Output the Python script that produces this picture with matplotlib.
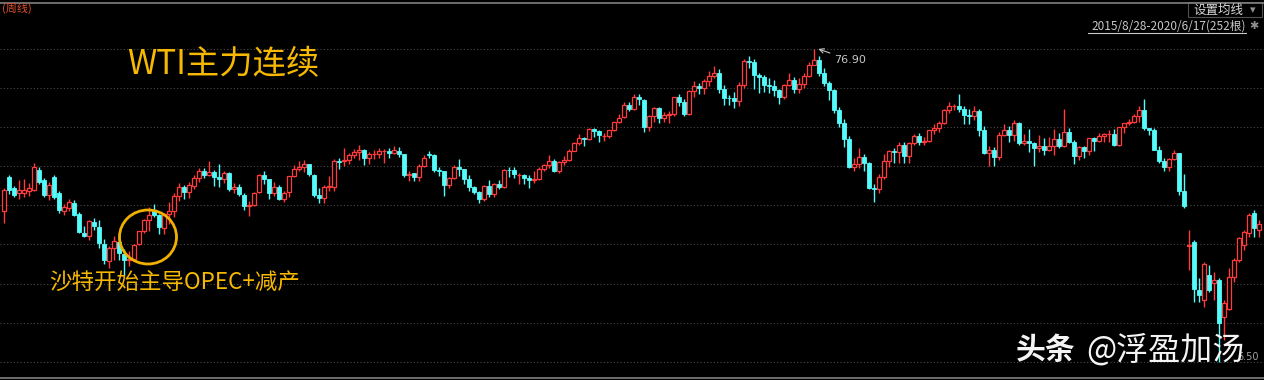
import matplotlib
matplotlib.use("Agg")
import matplotlib.pyplot as plt
from matplotlib.patches import Rectangle, Ellipse

# ---------------- data (weekly WTI main continuous, 2015/8/28 - 2020/6/17) ----------------
title_text = "WTI主力连续"
period_label = "(周线)"
range_label = "2015/8/28-2020/6/17(252根)"
note_text = "沙特开始主导OPEC+减产"
max_label = "76.90"
min_label = "6.50"
max_value = 76.90
min_value = 6.50

opens = [
    40.5, 48.0, 45.5, 44.4, 44.5, 44.8, 45.1, 49.6, 47.4, 44.0,
    48.1, 44.4, 40.3, 41.0, 42.1, 39.8, 35.5, 34.8, 38.0, 36.8,
    33.0, 29.2, 32.0, 33.5, 30.8, 29.5, 29.7, 32.9, 35.9, 38.4,
    40.5, 39.4, 36.7, 39.8, 40.3, 43.8, 45.8, 44.6, 46.1, 47.8,
    49.3, 48.6, 49.2, 48.0, 47.6, 49.0, 45.3, 45.9, 44.1, 41.5,
    41.8, 44.6, 48.6, 47.5, 44.5, 45.9, 43.0, 44.6, 48.2, 49.8,
    50.4, 50.9, 48.6, 44.0, 43.4, 45.8, 45.9, 51.6, 51.6, 51.9,
    53.0, 53.7, 54.0, 52.4, 53.2, 53.2, 53.8, 53.9, 53.5, 53.9,
    53.2, 48.5, 48.9, 48.0, 50.6, 53.3, 53.0, 49.6, 49.3, 46.3,
    47.8, 50.4, 49.8, 47.7, 45.8, 44.7, 43.0, 46.1, 44.3, 46.5,
    45.7, 49.7, 49.6, 48.4, 48.5, 47.9, 47.3, 47.5, 49.9, 50.7,
    51.7, 49.3, 51.5, 51.8, 53.9, 55.6, 56.7, 56.6, 58.9, 58.3,
    57.3, 57.3, 58.5, 60.4, 61.5, 64.3, 63.4, 66.1, 65.4, 59.2,
    61.7, 63.6, 61.3, 62.0, 62.3, 65.9, 64.9, 62.1, 67.4, 68.4,
    68.1, 69.7, 70.7, 71.3, 67.9, 65.8, 65.7, 65.0, 68.6, 74.2,
    73.8, 70.9, 70.5, 68.7, 68.5, 67.6, 65.9, 68.7, 69.8, 67.8,
    69.0, 70.8, 73.3, 74.3, 71.3, 69.1, 67.6, 63.1, 60.2, 56.5,
    50.4, 50.9, 52.6, 51.2, 45.6, 45.3, 48.0, 51.6, 53.8, 53.7,
    55.3, 52.7, 55.6, 57.3, 55.8, 56.1, 58.5, 59.0, 60.1, 63.1,
    63.9, 64.0, 63.3, 61.9, 61.7, 62.8, 58.6, 53.5, 54.0, 52.5,
    57.4, 58.5, 57.5, 60.2, 55.6, 56.2, 55.7, 54.5, 54.9, 54.2,
    55.1, 56.5, 54.9, 58.1, 55.9, 52.8, 54.7, 53.8, 56.7, 56.2,
    57.2, 57.7, 57.8, 55.2, 59.2, 60.1, 60.4, 61.7, 63.1, 59.0,
    58.5, 54.2, 51.6, 50.3, 52.1, 53.4, 44.8, 32.5, 33.5, 22.7,
    20.4, 26.0, 24.3, 24.9, 16.7, 18.5, 25.7, 29.4, 32.8, 35.4,
    39.9, 36.1,
]
highs = [
    45.5, 48.6, 46.0, 47.4, 47.6, 46.8, 51.3, 50.3, 47.8, 47.0,
    48.6, 44.8, 42.0, 43.2, 42.8, 40.2, 37.0, 38.3, 38.9, 38.4,
    34.2, 32.5, 34.8, 34.7, 31.8, 31.5, 33.0, 36.0, 38.7, 41.2,
    41.9, 39.8, 40.0, 42.4, 44.5, 46.8, 46.2, 47.0, 48.5, 50.0,
    50.0, 51.7, 49.7, 51.0, 49.4, 49.2, 46.8, 46.5, 44.4, 42.6,
    44.7, 48.8, 49.4, 47.7, 46.9, 46.2, 45.0, 48.3, 50.7, 51.6,
    51.9, 51.0, 48.8, 45.5, 46.2, 48.2, 52.0, 52.4, 54.5, 53.4,
    54.3, 55.2, 54.4, 53.6, 54.0, 54.5, 54.4, 54.6, 54.9, 54.8,
    53.3, 49.3, 49.0, 50.9, 52.9, 53.8, 53.3, 50.2, 49.5, 48.0,
    50.8, 52.0, 49.9, 48.4, 46.1, 44.9, 46.3, 47.3, 46.7, 47.4,
    49.8, 50.4, 50.2, 48.9, 48.7, 48.6, 49.4, 50.2, 50.9, 52.9,
    52.0, 51.6, 52.8, 54.3, 55.9, 57.7, 57.0, 59.0, 59.1, 58.6,
    58.0, 58.6, 60.5, 62.2, 64.8, 64.9, 66.7, 66.6, 65.6, 62.0,
    63.7, 63.7, 62.6, 62.8, 66.0, 66.7, 65.5, 67.5, 69.6, 69.1,
    70.0, 71.9, 72.9, 72.4, 68.6, 66.4, 67.1, 69.3, 74.5, 75.3,
    74.5, 71.4, 70.9, 70.3, 69.8, 67.9, 69.0, 71.4, 70.4, 70.3,
    71.3, 73.8, 76.9, 75.3, 72.6, 69.6, 67.9, 63.7, 61.0, 57.2,
    52.3, 54.6, 53.3, 51.4, 46.4, 48.7, 53.3, 54.1, 54.5, 55.8,
    55.8, 56.0, 57.8, 57.9, 57.0, 58.7, 60.0, 60.6, 63.3, 64.8,
    64.4, 66.6, 64.0, 63.3, 63.9, 63.3, 59.4, 54.9, 54.8, 58.2,
    59.9, 59.5, 60.9, 60.3, 57.7, 58.8, 56.0, 57.5, 56.9, 57.0,
    58.8, 58.0, 63.4, 59.0, 56.4, 54.9, 55.0, 56.9, 57.1, 57.9,
    57.9, 58.7, 58.9, 59.3, 60.1, 61.0, 62.3, 64.1, 65.6, 59.1,
    59.1, 54.9, 52.3, 52.2, 54.2, 53.5, 48.7, 36.1, 34.0, 25.3,
    28.9, 28.3, 26.8, 25.3, 20.4, 27.5, 29.8, 34.6, 36.1, 39.9,
    40.6, 38.4,
]
lows = [
    37.8, 44.3, 43.5, 43.2, 43.5, 43.8, 44.8, 46.5, 43.6, 42.9,
    43.2, 40.0, 39.6, 40.3, 39.2, 35.4, 34.5, 34.0, 36.2, 32.1,
    28.4, 27.6, 29.3, 29.3, 26.1, 28.0, 29.1, 32.7, 35.4, 36.0,
    39.0, 35.2, 35.2, 37.6, 39.1, 42.6, 43.0, 43.4, 45.4, 47.0,
    47.8, 48.3, 46.0, 45.8, 46.6, 44.8, 44.4, 43.8, 40.6, 39.2,
    41.5, 44.4, 46.5, 43.0, 43.8, 42.8, 42.5, 43.6, 48.0, 49.3,
    49.1, 48.3, 43.6, 42.2, 42.2, 44.8, 44.8, 49.9, 50.5, 51.0,
    52.3, 51.9, 50.7, 50.9, 52.1, 52.2, 51.2, 52.4, 53.1, 52.5,
    48.0, 47.1, 47.1, 47.1, 50.2, 52.3, 49.2, 48.2, 43.8, 45.5,
    47.6, 48.2, 46.5, 44.8, 44.2, 42.1, 42.6, 43.6, 43.6, 45.4,
    45.6, 48.0, 47.8, 46.5, 46.5, 45.6, 46.8, 47.3, 49.4, 50.1,
    49.1, 49.0, 50.7, 51.6, 53.8, 55.3, 55.1, 56.3, 57.0, 55.8,
    56.1, 56.8, 58.4, 60.1, 61.3, 62.8, 63.0, 64.2, 58.1, 58.3,
    60.5, 60.2, 60.4, 60.2, 61.8, 63.9, 61.8, 61.9, 66.0, 66.7,
    66.6, 68.4, 70.2, 66.9, 64.3, 64.3, 63.6, 64.0, 68.0, 72.5,
    67.9, 66.9, 67.1, 66.9, 66.3, 64.4, 65.6, 68.5, 66.9, 66.8,
    68.0, 70.4, 73.1, 70.8, 68.5, 65.3, 62.5, 59.3, 54.8, 50.0,
    49.4, 50.0, 49.3, 45.4, 42.4, 44.4, 47.6, 50.3, 51.3, 51.3,
    51.2, 51.3, 55.3, 55.3, 55.2, 56.0, 57.6, 58.1, 59.9, 62.5,
    63.0, 62.6, 60.0, 60.0, 60.9, 57.3, 53.1, 50.6, 50.6, 51.8,
    57.2, 55.9, 56.1, 55.2, 55.3, 53.6, 50.5, 53.6, 53.0, 53.8,
    52.9, 54.5, 54.7, 55.6, 50.9, 51.9, 52.4, 52.9, 53.9, 55.9,
    55.9, 55.9, 55.0, 55.0, 58.0, 59.8, 60.1, 60.5, 58.7, 57.4,
    54.2, 51.3, 49.3, 49.4, 51.9, 44.0, 41.1, 27.2, 20.0, 20.0,
    18.9, 22.3, 20.4, 6.5, 11.4, 18.2, 24.5, 29.0, 31.6, 34.6,
    34.6, 34.6,
]
closes = [
    45.2, 45.2, 44.0, 45.1, 45.1, 45.5, 50.4, 47.0, 44.0, 46.2,
    43.6, 40.6, 41.4, 42.5, 39.5, 35.6, 34.7, 38.1, 37.0, 33.2,
    29.4, 32.2, 33.6, 30.9, 29.4, 29.6, 32.8, 35.9, 38.5, 39.4,
    39.5, 36.8, 39.7, 40.4, 43.7, 45.9, 44.7, 46.2, 47.8, 49.3,
    48.6, 49.1, 48.0, 47.6, 49.0, 45.4, 45.9, 44.2, 41.6, 41.8,
    44.5, 48.5, 47.6, 44.4, 45.9, 43.0, 44.5, 48.2, 49.8, 50.4,
    50.9, 48.7, 44.1, 43.4, 45.7, 46.1, 51.7, 51.5, 51.9, 53.0,
    53.7, 54.0, 52.4, 53.2, 53.2, 53.8, 53.9, 53.4, 54.0, 53.3,
    48.5, 48.8, 48.0, 50.6, 52.2, 53.0, 49.6, 49.3, 46.2, 47.8,
    50.3, 49.8, 47.7, 45.8, 44.7, 43.0, 46.0, 44.2, 46.5, 45.8,
    49.7, 49.6, 48.8, 48.5, 47.9, 47.3, 47.5, 49.9, 50.7, 51.7,
    49.3, 51.5, 51.8, 53.9, 55.6, 56.7, 56.6, 58.9, 58.4, 57.4,
    57.3, 58.5, 60.4, 61.4, 64.3, 63.4, 66.1, 65.5, 59.2, 61.7,
    63.6, 61.3, 62.0, 62.3, 65.9, 64.9, 62.1, 67.4, 68.4, 68.1,
    69.7, 70.7, 71.3, 67.9, 65.8, 65.7, 65.1, 68.6, 74.2, 73.8,
    71.0, 70.5, 68.7, 68.5, 67.6, 65.9, 68.7, 69.8, 67.8, 69.0,
    70.8, 73.3, 74.3, 71.3, 69.1, 67.6, 63.1, 60.2, 56.5, 50.4,
    50.9, 52.6, 51.2, 45.6, 45.3, 48.0, 51.6, 53.8, 53.7, 55.3,
    52.7, 55.6, 57.3, 55.8, 56.1, 58.5, 59.0, 60.1, 63.1, 63.9,
    64.0, 63.3, 61.9, 61.7, 62.8, 58.6, 53.5, 54.0, 52.5, 57.4,
    58.5, 57.5, 60.2, 55.6, 56.2, 55.7, 54.5, 54.9, 54.2, 55.1,
    56.5, 54.9, 58.1, 55.9, 52.8, 54.7, 53.8, 56.7, 56.2, 57.2,
    57.7, 57.8, 55.2, 59.2, 60.1, 60.4, 61.7, 63.1, 59.0, 58.5,
    54.2, 51.6, 50.3, 52.1, 53.4, 44.8, 41.6, 32.8, 23.0, 21.5,
    28.6, 22.7, 24.9, 15.2, 19.7, 25.7, 29.4, 34.3, 35.8, 39.5,
    36.5, 37.6,
]

# ---------------- style ----------------
W, H = 1264, 380
BG = "black"
UP = "#ff3b3b"
DOWN = "#54fcfc"
GOLD = "#f6b800"
CJK = ["Noto Sans CJK SC", "DejaVu Sans"]
plt.rcParams["font.family"] = CJK

fig = plt.figure(figsize=(W / 100, H / 100), dpi=100, facecolor=BG)
ax = fig.add_axes([0, 0, 1, 1], facecolor=BG)
n = len(closes)
ax.set_xlim(-0.8, -0.8 + W / 5.0)
# price range so that 76.90 sits at y=48.5px and 6.50 at y=362px
ppx = (max_value - min_value) / (362 - 48.5)
ax.set_ylim(max_value - (H - 48.5) * ppx, max_value + 48.5 * ppx)
ax.axis("off")

# grid: 9 dotted lines splitting the min..max range into 8 parts
for k in range(9):
    gy = min_value + k * (max_value - min_value) / 8
    ax.axhline(gy, color="#4a4a4a", lw=0.8, ls=(0, (1, 2)), zorder=1)

bw = 0.72
for i in range(n):
    o, h, l, c = opens[i], highs[i], lows[i], closes[i]
    top, bot = max(o, c), min(o, c)
    if c >= o:
        col = UP
        ax.vlines(i, top, max(h, top), color=col, lw=1.0, zorder=2)
        ax.vlines(i, min(l, bot), bot, color=col, lw=1.0, zorder=2)
        ax.add_patch(Rectangle((i - bw / 2, bot), bw, max(top - bot, 0.05),
                               facecolor=BG, edgecolor=col, lw=0.9, zorder=3))
    else:
        col = DOWN
        ax.vlines(i, min(l, bot), max(h, top), color=col, lw=1.0, zorder=2)
        ax.add_patch(Rectangle((i - bw / 2, bot), bw, top - bot,
                               facecolor=col, edgecolor=col, lw=0.6, zorder=3))

# borders
def px(x, y):
    return (x / W, 1 - y / H)

fig.add_artist(plt.Line2D([0, 1], [1 - 2.5 / H, 1 - 2.5 / H], color="#808080", lw=1.2))
fig.add_artist(plt.Line2D([0, 1], [1 - 377.5 / H, 1 - 377.5 / H], color="#808080", lw=1.2))

# texts
fig.text(*px(2, 8), period_label, color="#e0502c", fontsize=8, va="center", ha="left")
fig.text(*px(127, 65), title_text, color=GOLD, fontsize=24, va="center", ha="left")
fig.text(*px(49, 282), note_text, color=GOLD, fontsize=16.2, va="center", ha="left")

ell = Ellipse(px(148, 237), 57 / W, 54 / H, transform=fig.transFigure,
              fill=False, edgecolor="#f0b000", lw=2.0, zorder=5)
fig.add_artist(ell)

# max label with arrow
imax = highs.index(max(highs))
ax.annotate(max_label, xy=(imax + 0.6, max_value), xytext=(px(834, 60)),
            textcoords="figure fraction", color="#c8c8c8", fontsize=8,
            va="center", ha="left", family="DejaVu Sans",
            arrowprops=dict(arrowstyle="->", color="#c8c8c8", lw=0.8,
                            shrinkA=1, shrinkB=1))

# min label
fig.text(*px(1259, 357), min_label, color="#a0a0a0", fontsize=7, va="center",
         ha="right", family="DejaVu Sans", zorder=4)

# top right controls
box = Rectangle(px(1188, 17), 74 / W, 15 / H, transform=fig.transFigure,
                facecolor=BG, edgecolor="#505050", lw=0.8)
fig.add_artist(box)
fig.text(*px(1193, 10), "设置均线", color="#d8d8d8", fontsize=9, va="center", ha="left")
fig.text(*px(1253, 10), "▾", color="#909090", fontsize=8, va="center", ha="center",
         family="DejaVu Sans")
fig.text(*px(1246, 26), range_label, color="#c8c8c8", fontsize=8.5,
         va="center", ha="right")
fig.add_artist(plt.Line2D([1088 / W, 1246 / W], [1 - 33 / H, 1 - 33 / H],
                          color="#c8c8c8", lw=0.8))
fig.text(*px(1254, 26), "✱", color="#909090", fontsize=8, va="center", ha="center",
         family="DejaVu Sans")

# watermark
fig.text(*px(1016, 350), "头条", color="#f4f4f4", fontsize=21.5, fontweight="bold",
         va="center", ha="left", zorder=10)
fig.text(*px(1086, 350), "@浮盈加汤", color="#f4f4f4", fontsize=23,
         va="center", ha="left", zorder=10)

fig.savefig("out.png", dpi=100, facecolor=BG)
